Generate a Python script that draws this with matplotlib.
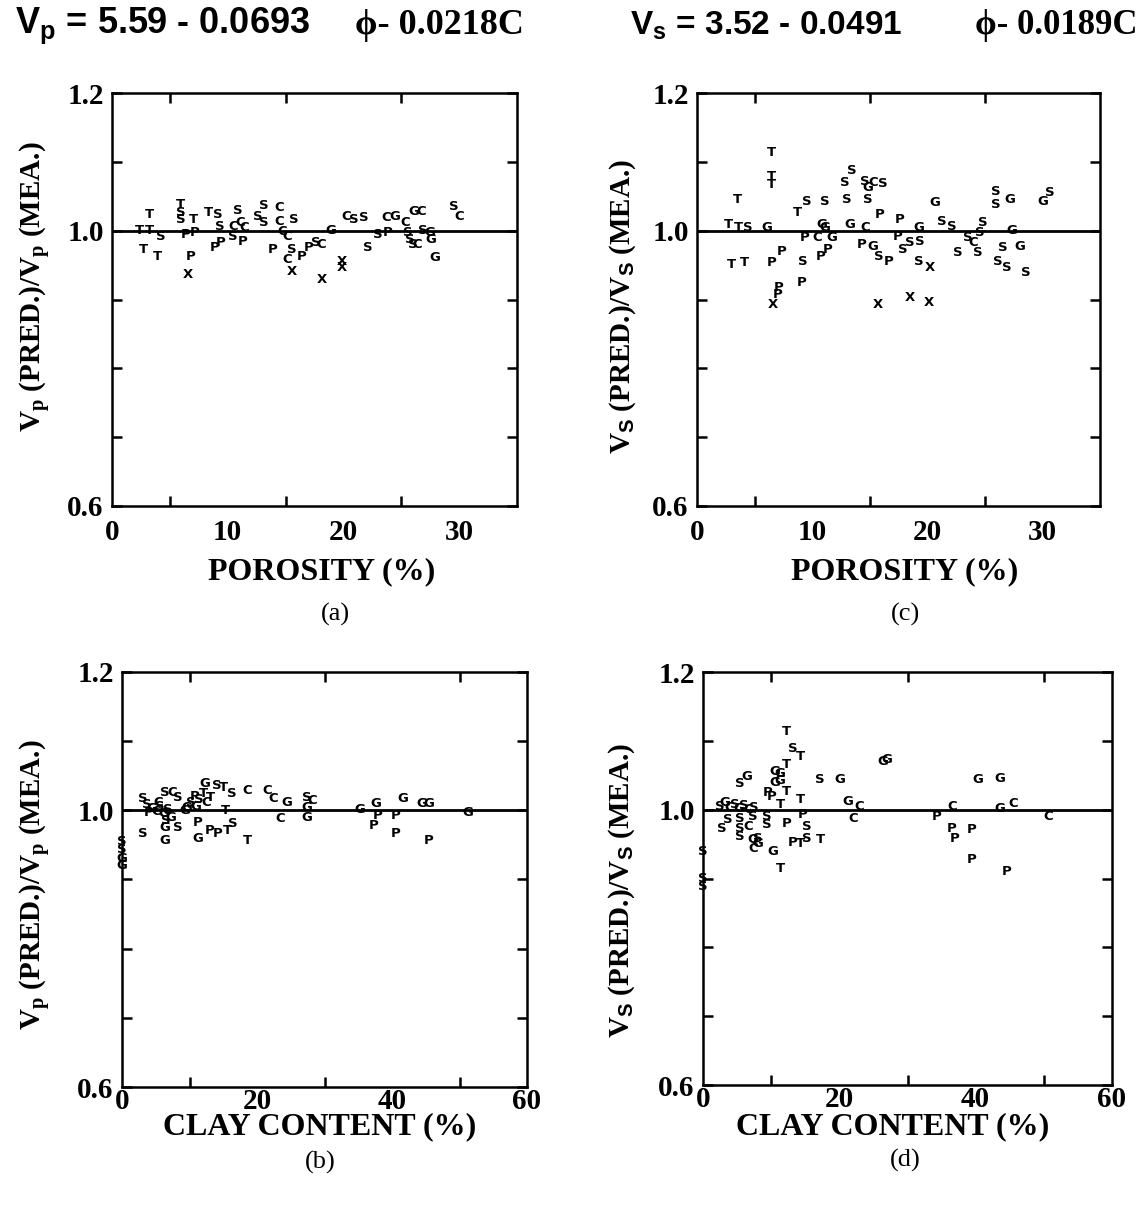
import matplotlib
matplotlib.use('Agg')
import matplotlib.pyplot as plt

plt.rcParams['mathtext.fontset'] = 'custom'
plt.rcParams['mathtext.rm'] = 'Liberation Serif:bold'
plt.rcParams['mathtext.it'] = 'Liberation Serif:bold'
plt.rcParams['mathtext.bf'] = 'Liberation Serif:bold'
plt.rcParams['mathtext.sf'] = 'Liberation Sans:bold'

# (a) Vp ratio vs porosity
a_x = [2.35, 3.21, 3.21, 4.25, 2.73, 3.96, 5.95, 5.95, 5.95, 7.0, 6.33, 7.18, 6.8, 6.52,
       8.32, 9.17, 9.36, 8.89, 9.36, 10.88, 10.5, 11.07, 11.45, 10.4, 11.26, 13.15, 12.58,
       13.15, 14.48, 14.48, 14.67, 15.14, 15.71, 13.9, 15.52, 15.14, 15.52, 16.37, 17.03,
       17.6, 18.07, 18.17, 18.93, 19.87, 19.87, 20.25, 20.92, 21.77, 22.15, 23.0, 23.85,
       23.66, 24.42, 25.37, 25.56, 25.75, 26.03, 26.41, 26.12, 26.69, 26.88, 27.45, 27.54,
       27.92, 29.53, 30.01]
a_y = [1.000, 1.000, 1.023, 0.991, 0.972, 0.962, 1.026, 1.038, 1.016, 1.016, 0.994, 0.997,
       0.962, 0.936, 1.026, 1.023, 1.006, 0.975, 0.983, 1.030, 1.006, 1.012, 1.004, 0.991,
       0.984, 1.036, 1.020, 1.012, 1.033, 1.013, 0.999, 0.991, 1.016, 0.972, 0.972, 0.958,
       0.941, 0.962, 0.975, 0.983, 0.980, 0.929, 1.000, 0.955, 0.946, 1.020, 1.016, 1.019,
       0.975, 0.994, 0.997, 1.019, 1.020, 1.012, 0.997, 0.987, 0.980, 0.980, 1.028, 1.028,
       1.000, 0.997, 0.987, 0.961, 1.035, 1.020]
a_lab = list('TTTSTTSTSTPPPXTSSPPSCCCSPSSSCCCCSPSCXPPSCXGXXCSSSSPCGCSSSCGCSGGGSC')

# (c) Vs ratio vs porosity
c_x = [2.71, 3.48, 3.58, 4.45, 6.09, 3.0, 4.16, 6.48, 6.48, 6.48, 6.48, 7.35, 7.06, 6.96,
       6.58, 8.7, 9.57, 11.12, 9.38, 9.19, 9.09, 10.83, 11.12, 10.44, 11.7, 10.73, 11.31,
       13.44, 12.86, 13.05, 14.6, 14.8, 15.28, 16.15, 14.8, 13.25, 14.6, 14.31, 15.28, 15.76,
       16.63, 15.86, 17.6, 17.41, 17.89, 18.47, 19.24, 19.34, 19.24, 20.21, 18.47, 20.11,
       15.67, 20.69, 21.27, 22.14, 22.63, 23.5, 23.98, 24.37, 24.56, 24.85, 25.92, 25.92,
       27.17, 27.37, 26.59, 28.04, 26.11, 26.88, 28.53, 30.07, 30.65]
c_y = [1.009, 1.045, 1.004, 1.004, 1.004, 0.951, 0.954, 1.113, 1.078, 1.067, 0.954, 0.970,
       0.917, 0.907, 0.893, 1.026, 1.042, 1.042, 0.990, 0.955, 0.925, 1.009, 1.004, 0.990,
       0.990, 0.962, 0.972, 1.088, 1.070, 1.045, 1.071, 1.062, 1.070, 1.068, 1.045, 1.009,
       1.004, 0.980, 0.977, 0.962, 0.955, 1.023, 1.016, 0.991, 0.972, 0.983, 1.004, 0.984,
       0.955, 0.946, 0.903, 0.896, 0.893, 1.041, 1.013, 1.006, 0.968, 0.990, 0.983, 0.968,
       0.997, 1.012, 1.057, 1.038, 1.045, 1.000, 0.975, 0.977, 0.955, 0.946, 0.939, 1.042,
       1.055]
c_lab = list('TTTSGTTTTTPPPPXTSSPSPGGCGPPSSSSGCSSGCPGSPPPPSSGSSXXXXGSSSSCSSSSSGGSGSSSGS')

# (b) Vp ratio vs clay content
b_x = [3.08, 3.7, 4.4, 5.0, 5.6, 6.2, 6.8, 4.0, 5.3, 7.2, 6.5, 3.08, 6.35, 6.35, 8.34,
       6.35, 7.45, 8.34, 9.6, 10.2, 10.8, 11.4, 12.0, 12.5, 13.1, 11.0, 12.31, 14.1, 14.99,
       16.28, 18.57, 9.33, 11.22, 11.22, 13.0, 14.1, 15.59, 16.48, 15.29, 18.57, 21.45,
       22.34, 24.43, 23.43, 27.4, 28.2, 27.4, 27.4, 35.25, 37.53, 37.83, 37.24, 40.51,
       41.6, 40.51, 44.49, 45.38, 45.38, 51.24, 0.0, 0.0, 0.0, 0.0]
b_y = [1.017, 1.008, 1.003, 0.998, 1.005, 0.995, 1.001, 0.997, 1.011, 0.990, 0.985, 0.967,
       0.975, 0.957, 0.975, 1.026, 1.026, 1.019, 1.004, 1.012, 1.020, 1.015, 1.025, 1.012,
       1.018, 1.005, 1.039, 1.036, 1.033, 1.025, 1.029, 1.000, 0.983, 0.960, 0.971, 0.967,
       0.971, 0.981, 1.000, 0.957, 1.029, 1.017, 1.012, 0.988, 1.019, 1.014, 1.004, 0.990,
       1.001, 1.010, 0.993, 0.978, 0.993, 1.017, 0.967, 1.010, 1.010, 0.957, 0.997, 0.955,
       0.943, 0.931, 0.920]
b_lab = list('SSGCSGSPCGSSGGSSCSGSPSTCTGGSTSCGPGPPTSTTCCGCSCGGGGPPPGPGGPGSSGG')

# (d) Vs ratio vs clay content
d_x = [12.28, 13.16, 14.24, 12.28, 10.51, 10.51, 11.29, 11.29, 5.4, 6.48, 9.43, 10.12,
       12.28, 11.29, 14.24, 17.19, 20.13, 26.42, 27.0, 2.5, 3.2, 3.9, 4.6, 5.3, 6.0, 6.7,
       7.4, 3.63, 2.75, 5.4, 5.4, 5.4, 6.58, 7.37, 7.37, 8.05, 7.37, 8.05, 9.43, 9.43, 10.31,
       11.29, 12.28, 14.63, 15.22, 13.16, 14.24, 15.22, 17.19, 21.21, 22.0, 22.98, 34.27,
       36.53, 36.53, 36.92, 39.48, 39.48, 40.26, 43.5, 43.5, 45.47, 44.58, 50.57,
       0.0, 0.0, 0.0]
d_y = [1.113, 1.089, 1.077, 1.065, 1.040, 1.055, 1.043, 1.053, 1.038, 1.048, 1.025, 1.019,
       1.026, 1.007, 1.015, 1.044, 1.044, 1.070, 1.073, 1.004, 1.010, 1.003, 1.007, 1.002,
       1.006, 1.000, 1.003, 0.985, 0.972, 0.987, 0.972, 0.961, 0.975, 0.990, 0.956, 0.958,
       0.944, 0.951, 0.990, 0.978, 0.939, 0.914, 0.980, 0.993, 0.975, 0.953, 0.951, 0.958,
       0.956, 1.012, 0.987, 1.004, 0.990, 1.004, 0.972, 0.958, 0.971, 0.927, 1.044, 1.045,
       1.001, 1.009, 0.910, 0.990, 0.939, 0.900, 0.888]
d_lab = list('TSTTGGGGSGPPTTTSGGGSGCSGSCSSSSSSCSGSCGSSGTPPSPTSTGCCPCPPPPGGGCPCSSS')

W, H = 1139, 1216
fig = plt.figure(figsize=(W / 100, H / 100), dpi=100)


def box(l, t, r, b):
    return [l / W, 1 - b / H, (r - l) / W, (b - t) / H]


serif = 'Liberation Serif'


def panel(rect, xs, ys, labs, xmax, xmaj, xmin, xpad):
    ax = fig.add_axes(rect)
    ax.set_xlim(0, xmax)
    ax.set_ylim(0.6, 1.2)
    ax.axhline(1.0, color='black', lw=2.0, zorder=1)
    for x, y, s in zip(xs, ys, labs):
        ax.text(x, y, s, ha='center', va='center', fontsize=9.5,
                fontweight='heavy', family='DejaVu Sans', zorder=3)
    ax.set_yticks([0.6, 0.7, 0.8, 0.9, 1.0, 1.1, 1.2])
    ax.set_yticklabels(['0.6', '', '', '', '1.0', '', '1.2'])
    ax.set_xticks(xmaj)
    ax.set_xticklabels([str(v) for v in xmaj])
    ax.set_xticks(xmin, minor=True)
    ax.tick_params(which='both', direction='in', length=7, width=1.8,
                   top=True, right=True)
    ax.tick_params(axis='x', which='major', length=0, pad=xpad)
    ax.tick_params(axis='y', pad=6)
    for lab in ax.get_xticklabels() + ax.get_yticklabels():
        lab.set_fontfamily(serif)
        lab.set_fontweight('bold')
        lab.set_fontsize(21)
    for sp in ax.spines.values():
        sp.set_linewidth(1.8)
    return ax


panel(box(112, 93, 517, 506), a_x, a_y, a_lab, 35, [0, 10, 20, 30], [5, 10, 15, 20, 25, 30], 9)
panel(box(697, 93, 1100, 506), c_x, c_y, c_lab, 35, [0, 10, 20, 30], [5, 10, 15, 20, 25, 30], 9)
panel(box(122, 672, 527, 1087), b_x, b_y, b_lab, 60, [0, 20, 40, 60], [10, 20, 30, 40, 50], 1)
panel(box(703, 672, 1112, 1085), d_x, d_y, d_lab, 60, [0, 20, 40, 60], [10, 20, 30, 40, 50], 1)


def ftext(px, py, s, **kw):
    fig.text(px / W, 1 - py / H, s, **kw)


# equations at the top
ftext(15, 26, r'$\mathsf{V_p}$ = 5.59 - 0.0693', family='Liberation Sans',
      fontweight='bold', fontsize=26, va='center', ha='left')
ftext(355, 25, '\u03d5- 0.0218C', family=[serif, 'DejaVu Serif'], fontweight='bold',
      fontsize=26, va='center', ha='left')
ftext(630, 26, r'$\mathsf{V_s}$ = 3.52 - 0.0491', family='Liberation Sans',
      fontweight='bold', fontsize=24, va='center', ha='left')
ftext(975, 25, '\u03d5- 0.0189C', family=[serif, 'DejaVu Serif'], fontweight='bold',
      fontsize=25, va='center', ha='left')

ylab_p = r'V$_\mathrm{p}$ (PRED.)/V$_\mathrm{p}$ (MEA.)'
ylab_s = r'V$_\mathsf{S}$ (PRED.)/V$_\mathsf{S}$ (MEA.)'
ylab_kw = dict(family=serif, fontweight='bold', fontsize=21, ha='center', va='center',
               rotation=90)
ftext(36, 287, ylab_p, **ylab_kw)
ftext(623, 306, ylab_s, **ylab_kw)
ftext(36, 885, ylab_p, **ylab_kw)
ftext(622, 890, ylab_s, **ylab_kw)

xlab_kw = dict(family=serif, fontweight='bold', fontsize=23, ha='center', va='center')
ftext(322, 572, 'POROSITY (%)', **xlab_kw)
ftext(905, 572, 'POROSITY (%)', **xlab_kw)
ftext(320, 1127, 'CLAY CONTENT (%)', **xlab_kw)
ftext(893, 1127, 'CLAY CONTENT (%)', **xlab_kw)

sub_kw = dict(family=serif, fontsize=19, ha='center', va='center')
ftext(335, 614, '(a)', **sub_kw)
ftext(905, 614, '(c)', **sub_kw)
ftext(320, 1162, '(b)', **sub_kw)
ftext(905, 1160, '(d)', **sub_kw)

fig.savefig('out.png', dpi=100)
